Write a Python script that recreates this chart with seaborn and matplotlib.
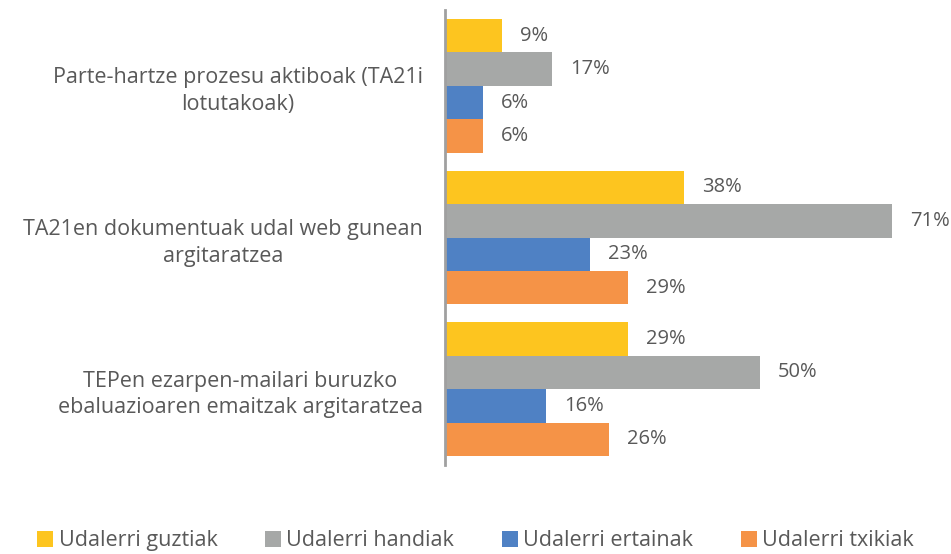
import matplotlib
matplotlib.use("Agg")
import matplotlib.pyplot as plt
import seaborn as sns
import pandas as pd

categories = [
    "Parte-hartze prozesu aktiboak (TA21i\nlotutakoak)",
    "TA21en dokumentuak udal web gunean\nargitaratzea",
    "TEPen ezarpen-mailari buruzko\nebaluazioaren emaitzak argitaratzea",
]
series = ["Udalerri guztiak", "Udalerri handiak", "Udalerri ertainak", "Udalerri txikiak"]
guztiak = [9, 38, 29]
handiak = [17, 71, 50]
ertainak = [6, 23, 16]
txikiak = [6, 29, 26]
colors = ["#FDC51F", "#A6A8A7", "#4F81C4", "#F59347"]

rows = []
for s, vals in zip(series, [guztiak, handiak, ertainak, txikiak]):
    for c, v in zip(categories, vals):
        rows.append({"cat": c, "series": s, "value": v})
df = pd.DataFrame(rows)

sns.set_theme(style="white")
plt.rcParams["font.family"] = ["Open Sans", "DejaVu Sans"]
text_color = "#595959"

fig = plt.figure(figsize=(9.51, 5.54), dpi=100)
ax = fig.add_axes([445 / 951, 1 - 465 / 554, 1 - 445 / 951, (465 - 10) / 554])

sns.barplot(data=df, y="cat", x="value", hue="series", orient="h",
            palette=colors, width=0.88, gap=0, ax=ax, legend=True,
            saturation=1, linewidth=0)

ax.set_xlim(0, 506 / (447 / 71))
ax.set_ylim(2.5, -0.5)
ax.set_xlabel("")
ax.set_ylabel("")
ax.set_xticks([])
for sp in ["top", "right", "bottom"]:
    ax.spines[sp].set_visible(False)
ax.spines["left"].set_color("#A0A0A0")
ax.spines["left"].set_linewidth(2)

ax.tick_params(axis="y", length=0, pad=16)
for lbl in ax.get_yticklabels():
    lbl.set_fontsize(15.5)
    lbl.set_color(text_color)
    lbl.set_multialignment("center")
    lbl.set_linespacing(1.35)

for cont in ax.containers:
    ax.bar_label(cont, labels=[f"{int(v)}%" for v in cont.datavalues],
                 padding=13, fontsize=14.5, color=text_color)

leg = ax.get_legend()
handles = leg.legend_handles
leg.remove()
fig.legend(handles, series, loc="lower center", bbox_to_anchor=(0.5, -0.03),
           ncol=4, frameon=False, fontsize=15.5, labelcolor=text_color,
           handlelength=0.75, handleheight=0.75, handletextpad=0.25,
           columnspacing=2.2)

fig.savefig("out.png", dpi=100)
